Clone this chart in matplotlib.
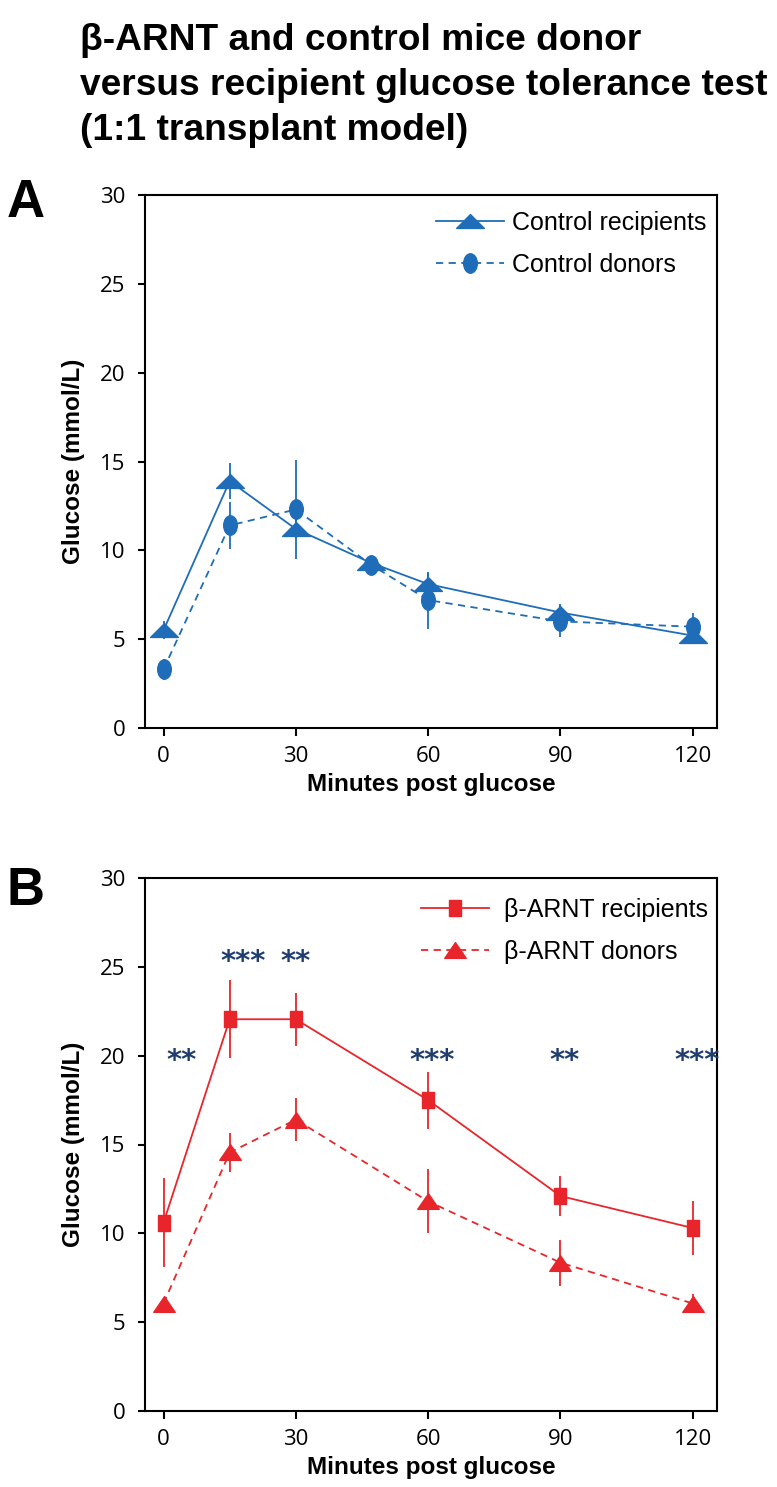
import numpy as np
import matplotlib
matplotlib.use("Agg")
import matplotlib.pyplot as plt
from matplotlib.path import Path
from matplotlib.lines import Line2D

# panel A: control mice
a_min = [0, 15, 30, 47, 60, 90, 120]
a_recip = [5.5, 13.9, 11.2, 9.3, 8.1, 6.5, 5.2]
a_recip_err = [0.5, 1.0, 0.5, 0.3, 0.6, 0.5, 0.3]
a_donor = [3.3, 11.4, 12.3, 9.2, 7.2, 6.0, 5.7]
a_donor_err = [0.6, 1.3, 2.8, 0.3, 1.6, 0.9, 0.8]

# panel B: beta-ARNT mice
b_min = [0, 15, 30, 60, 90, 120]
b_recip = [10.6, 22.05, 22.05, 17.5, 12.1, 10.3]
b_recip_err = [2.5, 2.2, 1.5, 1.6, 1.1, 1.5]
b_donor = [6.05, 14.55, 16.4, 11.8, 8.35, 6.05]
b_donor_err = [0.3, 1.1, 1.2, 1.8, 1.3, 0.55]

star_x = [4, 18, 30, 61, 91, 121]
star_y = [19.7, 25.3, 25.3, 19.7, 19.7, 19.7]
star_txt = ["**", "***", "**", "***", "**", "***"]

xticks = [0, 30, 60, 90, 120]
yticks = [0, 5, 10, 15, 20, 25, 30]

BLUE = "#1f6db8"
RED = "#e8252b"
NAVY = "#1f3d6e"
W, H = 777, 1487

# markers (excel-like, slightly squashed)
tri_a = Path([(-1, -0.5), (1, -0.5), (0, 0.5), (-1, -0.5)],
             [Path.MOVETO, Path.LINETO, Path.LINETO, Path.CLOSEPOLY])
circ = Path.unit_circle()
ell = Path(circ.vertices * np.array([0.7, 1.0]), circ.codes)
sq_b = Path([(-0.75, -1), (0.75, -1), (0.75, 1), (-0.75, 1), (-0.75, -1)],
            [Path.MOVETO, Path.LINETO, Path.LINETO, Path.LINETO, Path.CLOSEPOLY])
tri_b = Path([(-1, -0.73), (1, -0.73), (0, 0.73), (-1, -0.73)],
             [Path.MOVETO, Path.LINETO, Path.LINETO, Path.CLOSEPOLY])
DASH = (0, (4, 3))

fig = plt.figure(figsize=(W / 100, H / 100), dpi=100)

title_font = dict(family="Liberation Sans", weight="bold", fontsize=26.7)
fig.text(80 / W, 1 - 50 / H, "β-ARNT and control mice donor", va="baseline", **title_font)
fig.text(80 / W, 1 - 95 / H, "versus recipient glucose tolerance test", va="baseline", **title_font)
fig.text(80 / W, 1 - 140 / H, "(1:1 transplant model)", va="baseline", **title_font)


def style_axes(ax, letter, letter_y):
    ax.set_xlim(-4.2, 125.5)
    ax.set_ylim(0, 30)
    ax.set_xticks(xticks)
    ax.set_yticks(yticks)
    for s in ax.spines.values():
        s.set_linewidth(1.5)
    ax.tick_params(direction="out", length=5, width=1.5, pad=9, labelsize=16)
    ax.tick_params(axis="x", length=6, pad=7)
    for lab in ax.get_xticklabels() + ax.get_yticklabels():
        lab.set_family("Open Sans")
    ax.set_xlabel("Minutes post glucose", family="Liberation Sans", weight="bold",
                  fontsize=17.5, labelpad=4)
    ax.set_ylabel("Glucose (mmol/L)", family="Liberation Sans", weight="bold",
                  fontsize=17.5, labelpad=11)
    fig.text(7 / W, 1 - letter_y / H, letter, family="Liberation Sans", weight="bold",
             fontsize=38, va="baseline")


def add_legend(ax, handles, x0, ytop, hl, tp):
    ax.legend(handles=handles, loc="upper left",
              bbox_to_anchor=((x0 - 145) / 572, 1 - (ytop - ax_top[ax]) / 533),
              frameon=False, borderpad=0, borderaxespad=0,
              handlelength=hl, handletextpad=tp, labelspacing=0.72,
              prop={"family": "Liberation Sans", "size": 18})


ax_top = {}

# ---- A ----
ax1 = fig.add_axes([145 / W, 1 - 728 / H, 572 / W, 533 / H])
ax_top[ax1] = 195
ax1.errorbar(a_min, a_donor, yerr=a_donor_err, color=BLUE, lw=1.3, ls=DASH,
             marker=ell, ms=14, elinewidth=1.3, capsize=0, zorder=3)
ax1.errorbar(a_min, a_recip, yerr=a_recip_err, color=BLUE, lw=1.3, ls="-",
             marker=tri_a, ms=20, elinewidth=1.3, capsize=0, zorder=4)
leg_a = [Line2D([], [], color=BLUE, lw=1.3, marker=tri_a, ms=20, label="Control recipients"),
         Line2D([], [], color=BLUE, lw=1.3, ls=DASH, marker=ell, ms=14, label="Control donors")]
add_legend(ax1, leg_a, 436, 211, 2.7, 0.33)
style_axes(ax1, "A", 217)

# ---- B ----
ax2 = fig.add_axes([145 / W, 1 - 1411 / H, 572 / W, 533 / H])
ax_top[ax2] = 878
ax2.errorbar(b_min, b_recip, yerr=b_recip_err, color=RED, lw=1.3, ls="-",
             marker=sq_b, ms=11, elinewidth=1.3, capsize=0, zorder=4)
ax2.errorbar(b_min, b_donor, yerr=b_donor_err, color=RED, lw=1.3, ls=DASH,
             marker=tri_b, ms=15.5, elinewidth=1.3, capsize=0, zorder=3)
leg_b = [Line2D([], [], color=RED, lw=1.3, marker=sq_b, ms=11, label="β-ARNT recipients"),
         Line2D([], [], color=RED, lw=1.3, ls=DASH, marker=tri_b, ms=15.5, label="β-ARNT donors")]
add_legend(ax2, leg_b, 421, 898, 2.7, 0.6)
for x, y, t in zip(star_x, star_y, star_txt):
    ax2.text(x, y, t, color=NAVY, fontsize=21, family="DejaVu Sans", weight="bold",
             ha="center", va="center")
style_axes(ax2, "B", 905)

fig.savefig("out.png", dpi=100)
